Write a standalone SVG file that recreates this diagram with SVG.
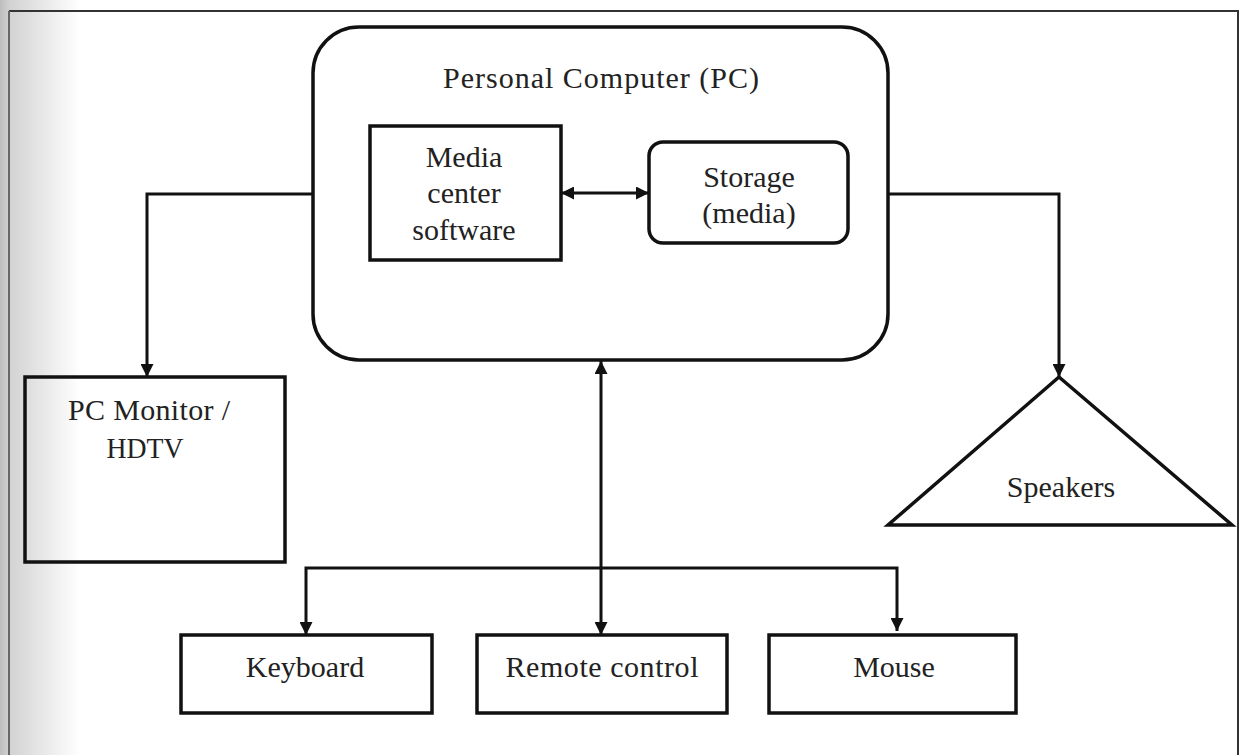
<svg xmlns="http://www.w3.org/2000/svg" width="1244" height="755" viewBox="0 0 1244 755">
  <defs>
    <linearGradient id="scan" x1="0" y1="0" x2="1" y2="0">
      <stop offset="0" stop-color="#bdbdbd"/>
      <stop offset="0.12" stop-color="#d2d2d2"/>
      <stop offset="0.5" stop-color="#e6e6e6"/>
      <stop offset="1" stop-color="#ffffff"/>
    </linearGradient>
    <marker id="arr" viewBox="0 0 13 13" refX="13" refY="6.5" markerWidth="13" markerHeight="13" markerUnits="userSpaceOnUse" orient="auto-start-reverse">
      <path d="M0,0 L13,6.5 L0,13 z" fill="#111"/>
    </marker>
    <style>
      .box { fill: none; stroke: #111; stroke-width: 3.5; }
      .wire { fill: none; stroke: #111; stroke-width: 3; }
      .frame { fill: none; stroke: #333; stroke-width: 2; }
      text { font-family: "Liberation Serif", "Times New Roman", serif; font-size: 30px; fill: #222; text-anchor: middle; }
    </style>
  </defs>

  <rect x="0" y="0" width="1244" height="755" fill="#ffffff"/>
  <rect x="0" y="0" width="80" height="755" fill="url(#scan)"/>

  <g id="frame">
    <path class="frame" d="M9,11 H1238 V755"/>
    <path d="M9,11 V755" fill="none" stroke="#666" stroke-width="2"/>
  </g>

  <g id="connectors">
    <path class="wire" d="M313,194 H147 V377" marker-end="url(#arr)"/>
    <path class="wire" d="M888,194 H1059 V377" marker-end="url(#arr)"/>
    <path class="wire" d="M561,193 H649" marker-start="url(#arr)" marker-end="url(#arr)"/>
    <path class="wire" d="M601,361 V635" marker-start="url(#arr)" marker-end="url(#arr)"/>
    <path class="wire" d="M601,568 H306 V635" marker-end="url(#arr)"/>
    <path class="wire" d="M601,568 H897 V631" marker-end="url(#arr)"/>
  </g>

  <g id="pc">
    <rect class="box" x="313" y="27" width="575" height="333" rx="46" ry="46"/>
    <text x="601" y="88" textLength="316" lengthAdjust="spacing">Personal Computer (PC)</text>
  </g>

  <g id="media-center">
    <rect class="box" x="370" y="126" width="191" height="134"/>
    <text x="464" y="167">Media</text>
    <text x="464" y="203">center</text>
    <text x="464" y="240">software</text>
  </g>

  <g id="storage">
    <rect class="box" x="649" y="142" width="199" height="101" rx="14" ry="14"/>
    <text x="749" y="187">Storage</text>
    <text x="749" y="223">(media)</text>
  </g>

  <g id="monitor">
    <rect class="box" x="25" y="377" width="260" height="185"/>
    <text x="149" y="420" textLength="162" lengthAdjust="spacing">PC Monitor /</text>
    <text x="145" y="458" textLength="77" lengthAdjust="spacingAndGlyphs">HDTV</text>
  </g>

  <g id="speakers">
    <polygon class="box" points="1059,377 1232,525 888,525"/>
    <text x="1061" y="497">Speakers</text>
  </g>

  <g id="keyboard">
    <rect class="box" x="181" y="635" width="251" height="78"/>
    <text x="305" y="677">Keyboard</text>
  </g>

  <g id="remote">
    <rect class="box" x="477" y="635" width="250" height="78"/>
    <text x="602" y="677" textLength="193" lengthAdjust="spacing">Remote control</text>
  </g>

  <g id="mouse">
    <rect class="box" x="769" y="635" width="247" height="78"/>
    <text x="894" y="677">Mouse</text>
  </g>
</svg>
